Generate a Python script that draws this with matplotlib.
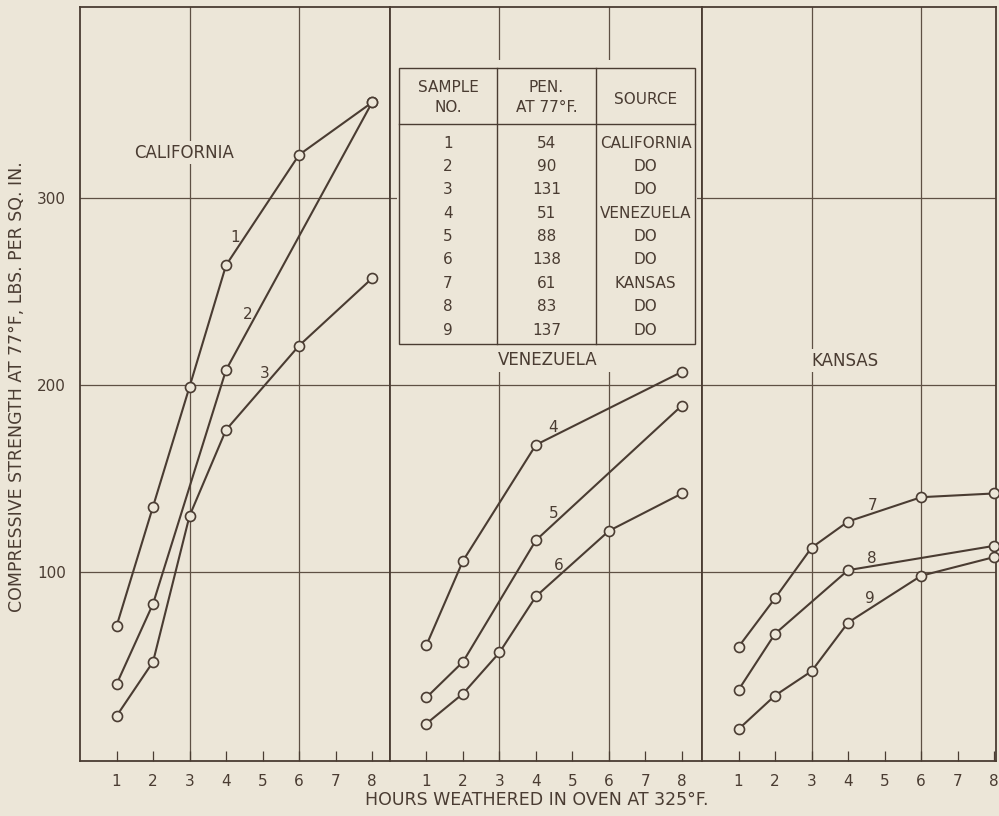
import matplotlib
matplotlib.use("Agg")
import matplotlib.pyplot as plt
from matplotlib.patches import Rectangle
from matplotlib.lines import Line2D

# ---------------- data ----------------
hours_ticks = [1, 2, 3, 4, 5, 6, 7, 8]
y_ticks = [100, 200, 300]

panels = ["CALIFORNIA", "VENEZUELA", "KANSAS"]

s1_x = [1, 2, 3, 4, 6, 8]; s1_y = [71, 135, 199, 264, 323, 351]
s2_x = [1, 2, 4, 8];       s2_y = [40, 83, 208, 351]
s3_x = [1, 2, 3, 4, 6, 8]; s3_y = [23, 52, 130, 176, 221, 257]

s4_x = [1, 2, 4, 8];       s4_y = [61, 106, 168, 207]
s5_x = [1, 2, 4, 8];       s5_y = [33, 52, 117, 189]
s6_x = [1, 2, 3, 4, 6, 8]; s6_y = [19, 35, 57, 87, 122, 142]

s7_x = [1, 2, 3, 4, 6, 8]; s7_y = [60, 86, 113, 127, 140, 142]
s8_x = [1, 2, 4, 8];       s8_y = [37, 67, 101, 114]
s9_x = [1, 2, 3, 4, 6, 8]; s9_y = [16, 34, 47, 73, 98, 108]

sample_no = ["1", "2", "3", "4", "5", "6", "7", "8", "9"]
pen_77 = ["54", "90", "131", "51", "88", "138", "61", "83", "137"]
source = ["CALIFORNIA", "DO", "DO", "VENEZUELA", "DO", "DO", "KANSAS", "DO", "DO"]

# ---------------- style ----------------
BG = "#ECE6D8"
INK = "#4A3C32"
GRID = "#5E5044"
plt.rcParams["font.family"] = ["DejaVu Sans"]

W, H = 999, 816
fig = plt.figure(figsize=(W / 100, H / 100), dpi=100, facecolor=BG)

def fx(x):
    return x / W

def fy(y):
    return 1 - y / H

bottom = fy(761)
height = (761 - 7) / H
specs = [(80, 310, 8.49), (390, 312, 8.55), (702, 294, 8.05)]
axes = []
for left, width, xmax in specs:
    ax = fig.add_axes([fx(left), bottom, width / W, height])
    ax.set_facecolor(BG)
    ax.set_xlim(0, xmax)
    ax.set_ylim(-1, 402)
    for sp in ax.spines.values():
        sp.set_color(INK)
        sp.set_linewidth(1.3)
    ax.set_xticks(hours_ticks)
    ax.set_xticklabels([str(h) for h in hours_ticks], fontsize=11, color=INK)
    ax.tick_params(axis="x", direction="in", length=7, width=0.9, color=INK, pad=9)
    ax.set_yticks(y_ticks)
    ax.tick_params(axis="y", length=0)
    for v in y_ticks:
        ax.axhline(v, color=GRID, lw=0.9, zorder=1)
    for v in [3, 6]:
        ax.axvline(v, color=GRID, lw=0.9, zorder=1)
    axes.append(ax)

axes[0].set_yticklabels([str(v) for v in y_ticks], fontsize=11, color=INK)
axes[0].tick_params(axis="y", pad=10)
axes[1].set_yticklabels([])
axes[2].set_yticklabels([])

series = [
    (0, s1_x, s1_y), (0, s2_x, s2_y), (0, s3_x, s3_y),
    (1, s4_x, s4_y), (1, s5_x, s5_y), (1, s6_x, s6_y),
    (2, s7_x, s7_y), (2, s8_x, s8_y), (2, s9_x, s9_y),
]
for i, xs, ys in series:
    axes[i].plot(xs, ys, color=INK, lw=1.5, marker="o", ms=7.2,
                 mfc=BG, mec=INK, mew=1.2, zorder=4, clip_on=False)

lab_kw = dict(fontsize=12, color=INK, ha="center", va="center", zorder=5)
num_kw = dict(fontsize=11, color=INK, ha="center", va="center", zorder=5)
bb = dict(boxstyle="square,pad=0.15", fc=BG, ec="none")
axes[0].text(2.85, 324, "CALIFORNIA", bbox=bb, **lab_kw)
axes[1].text(4.33, 213.4, "VENEZUELA", bbox=bb, **lab_kw)
axes[2].text(3.92, 212.8, "KANSAS", bbox=bb, **lab_kw)

axes[0].text(4.25, 278.6, "1", **num_kw)
axes[0].text(4.58, 237.4, "2", **num_kw)
axes[0].text(5.07, 205.9, "3", **num_kw)
axes[1].text(4.47, 177.5, "4", **num_kw)
axes[1].text(4.49, 131.5, "5", **num_kw)
axes[1].text(4.63, 103.7, "6", **num_kw)
axes[2].text(4.66, 135.3, "7", **num_kw)
axes[2].text(4.66, 107.0, "8", **num_kw)
axes[2].text(4.60, 85.6, "9", **num_kw)

# axis titles
fig.text(fx(17), fy(387), "COMPRESSIVE STRENGTH AT 77°F, LBS. PER SQ. IN.",
         rotation=90, ha="center", va="center", fontsize=12.5, color=INK)
fig.text(fx(537), fy(800), "HOURS WEATHERED IN OVEN AT 325°F.",
         ha="center", va="center", fontsize=12.5, color=INK)

# ---------------- table (inside the middle panel) ----------------
axT = axes[1]
ft = fig.transFigure
tl, tr, tt, tb = 399, 695, 68, 344
axT.add_patch(Rectangle((fx(397), fy(372)), (697 - 397) / W, (372 - 60) / H,
                        transform=ft, fc=BG, ec="none", zorder=2))
axT.add_patch(Rectangle((fx(tl), fy(tb)), (tr - tl) / W, (tb - tt) / H,
                        transform=ft, fc=BG, ec=INK, lw=1.0, zorder=3))
axT.add_line(Line2D([fx(tl), fx(tr)], [fy(124), fy(124)], transform=ft,
                    color=INK, lw=1.0, zorder=3))
for cx in [497, 596]:
    axT.add_line(Line2D([fx(cx), fx(cx)], [fy(tt), fy(tb)], transform=ft,
                        color=INK, lw=1.0, zorder=3))

col_c = [448, 546.5, 645.5]
tk = dict(ha="center", va="center", fontsize=11, color=INK, zorder=3.5, transform=ft)
axT.text(fx(col_c[0]), fy(87), "SAMPLE", **tk)
axT.text(fx(col_c[0]), fy(108), "NO.", **tk)
axT.text(fx(col_c[1]), fy(87), "PEN.", **tk)
axT.text(fx(col_c[1]), fy(108), "AT 77°F.", **tk)
axT.text(fx(col_c[2]), fy(99), "SOURCE", **tk)
for r in range(len(sample_no)):
    yy = 143 + r * 23.4
    axT.text(fx(col_c[0]), fy(yy), sample_no[r], **tk)
    axT.text(fx(col_c[1]), fy(yy), pen_77[r], **tk)
    axT.text(fx(col_c[2]), fy(yy), source[r], **tk)

fig.savefig("out.png", dpi=100, facecolor=BG)
